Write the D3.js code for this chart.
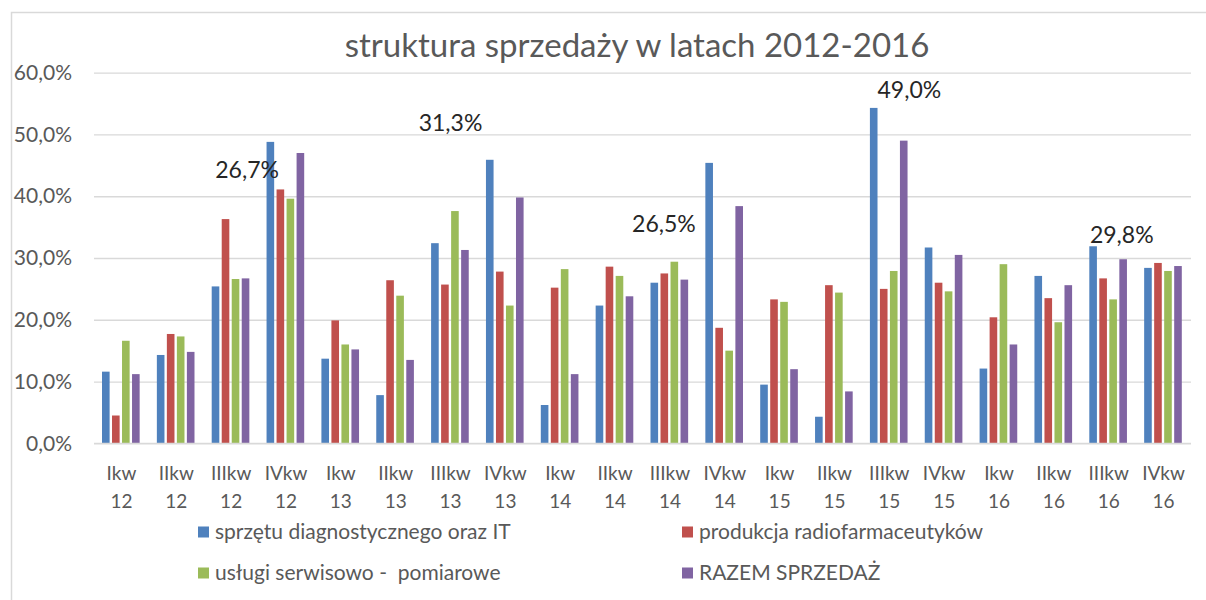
<!DOCTYPE html>
<html>
<head>
<meta charset="utf-8">
<script src="https://cdn.jsdelivr.net/npm/d3@7"></script>
<style>
  html, body { margin: 0; padding: 0; background: #fff; }
  svg { display: block; }
</style>
</head>
<body>
<svg id="chart" width="1206" height="600"></svg>
<script>
// ---- data ----
const quarters = ["Ikw","IIkw","IIIkw","IVkw","Ikw","IIkw","IIIkw","IVkw","Ikw","IIkw","IIIkw","IVkw","Ikw","IIkw","IIIkw","IVkw","Ikw","IIkw","IIIkw","IVkw"];
const years = ["12","12","12","12","13","13","13","13","14","14","14","14","15","15","15","15","16","16","16","16"];
const seriesNames = ["sprzętu diagnostycznego oraz IT","produkcja radiofarmaceutyków","usługi serwisowo -  pomiarowe","RAZEM SPRZEDAŻ"];
const sprzet   = [11.6, 14.3, 25.4, 48.8, 13.7,  7.8, 32.4, 45.9,  6.2, 22.3, 26.0, 45.4,  9.5,  4.3, 54.3, 31.7, 12.1, 27.1, 31.9, 28.4];
const produkcja= [ 4.5, 17.7, 36.3, 41.1, 19.9, 26.4, 25.7, 27.8, 25.2, 28.6, 27.5, 18.7, 23.3, 25.6, 25.0, 26.0, 20.4, 23.5, 26.7, 29.2];
const uslugi   = [16.6, 17.3, 26.6, 39.6, 16.0, 23.9, 37.6, 22.3, 28.2, 27.1, 29.4, 15.0, 22.9, 24.4, 27.9, 24.6, 29.0, 19.6, 23.3, 27.9];
const razem    = [11.2, 14.8, 26.7, 47.0, 15.2, 13.5, 31.3, 39.8, 11.2, 23.8, 26.5, 38.4, 12.0,  8.4, 49.0, 30.5, 16.0, 25.6, 29.8, 28.7];
const yTicks = [0, 10, 20, 30, 40, 50, 60];
const labeledGroups = [2, 6, 10, 14, 18]; // data labels shown on RAZEM SPRZEDAŻ
const title = "struktura sprzedaży w latach 2012-2016";

// ---- layout / styles ----
const colors = ["#4F81BD", "#C0504D", "#9BBB59", "#8064A2"];
const seriesValues = [sprzet, produkcja, uslugi, razem];
const labelPlacement = [ {dx: 1, y: 44.2}, {dx: -15, y: 51.9}, {dx: -21, y: 35.5}, {dx: 5, y: 57.2}, {dx: -2, y: 33.8} ];
const font = "Lato, 'Open Sans', sans-serif";
const grey = "#595959";

const svg = d3.select("#chart");
const plot = { left: 94, right: 1191, top: 72.7, bottom: 443.3 };

// chart frame
svg.append("path")
  .attr("d", `M11.5,${600} V12.5 H1206`)
  .attr("fill", "none").attr("stroke", "#d9d9d9").attr("stroke-width", 1.5);

const x0 = d3.scaleBand().domain(d3.range(quarters.length))
  .range([plot.left, plot.right]).paddingInner(0.27).paddingOuter(0.135);
const x1 = d3.scaleBand().domain(d3.range(seriesValues.length))
  .range([0, x0.bandwidth()]).padding(0);
const y = d3.scaleLinear().domain([0, 60]).range([plot.bottom, plot.top]);

// gridlines
const yAxis = d3.axisLeft(y).tickValues(yTicks).tickSize(-(plot.right - plot.left))
  .tickFormat(d => d3.format(".1f")(d).replace(".", ",") + "%");
const gy = svg.append("g").attr("transform", `translate(${plot.left},0)`).call(yAxis);
gy.select(".domain").remove();
gy.selectAll(".tick line").attr("stroke", "#d9d9d9").attr("stroke-width", 1.3);
gy.selectAll(".tick text").attr("x", -22).attr("fill", grey)
  .style("font-family", font).style("font-size", "21px");

// bars
const groups = svg.append("g").selectAll("g").data(quarters).join("g")
  .attr("transform", (d, i) => `translate(${x0(i)},0)`);
groups.selectAll("rect")
  .data((d, i) => seriesValues.map((s, k) => ({ k, v: s[i] })))
  .join("rect")
  .attr("x", d => x1(d.k) + 0.6)
  .attr("width", x1.bandwidth() - 2.4)
  .attr("y", d => y(d.v))
  .attr("height", d => y(0) - y(d.v))
  .attr("fill", d => colors[d.k]);

// baseline
svg.append("line").attr("x1", plot.left).attr("x2", plot.right)
  .attr("y1", plot.bottom).attr("y2", plot.bottom)
  .attr("stroke", "#d9d9d9").attr("stroke-width", 1.3);

// x axis labels (two lines)
const xl = svg.append("g").selectAll("text").data(quarters).join("text")
  .attr("text-anchor", "middle").attr("fill", grey)
  .style("font-family", font).style("font-size", "19px");
xl.attr("transform", (d, i) => `translate(${x0(i) + x0.bandwidth() / 2},0)`);
xl.append("tspan").attr("x", 0).attr("y", 480).text(d => d);
xl.append("tspan").attr("x", 0).attr("y", 508).text((d, i) => years[i]);

// data labels
svg.append("g").selectAll("text").data(labeledGroups).join("text")
  .attr("x", (g, j) => x0(g) + x1(3) + x1.bandwidth() / 2 + labelPlacement[j].dx)
  .attr("y", (g, j) => y(labelPlacement[j].y))
  .attr("dy", "0.35em")
  .attr("text-anchor", "middle").attr("fill", "#262626")
  .style("font-family", font).style("font-size", "23px")
  .text(g => d3.format(".1f")(razem[g]).replace(".", ",") + "%");

// title
svg.append("text").attr("x", 637).attr("y", 45).attr("dy", "0.35em")
  .attr("text-anchor", "middle").attr("fill", grey)
  .style("font-family", font).style("font-size", "33px")
  .text(title);

// legend
const legendPos = [ {x: 198, y: 532}, {x: 682, y: 532}, {x: 198, y: 573}, {x: 682, y: 573} ];
const lg = svg.append("g").selectAll("g").data(seriesNames).join("g")
  .attr("transform", (d, i) => `translate(${legendPos[i].x},${legendPos[i].y})`);
lg.append("rect").attr("x", 0).attr("y", -5.5).attr("width", 11).attr("height", 11)
  .attr("fill", (d, i) => colors[i]);
lg.append("text").attr("x", 17).attr("dy", "0.35em").attr("fill", grey)
  .style("font-family", font).style("font-size", "21px")
  .style("white-space", "pre")
  .text(d => d);
</script>
</body>
</html>
